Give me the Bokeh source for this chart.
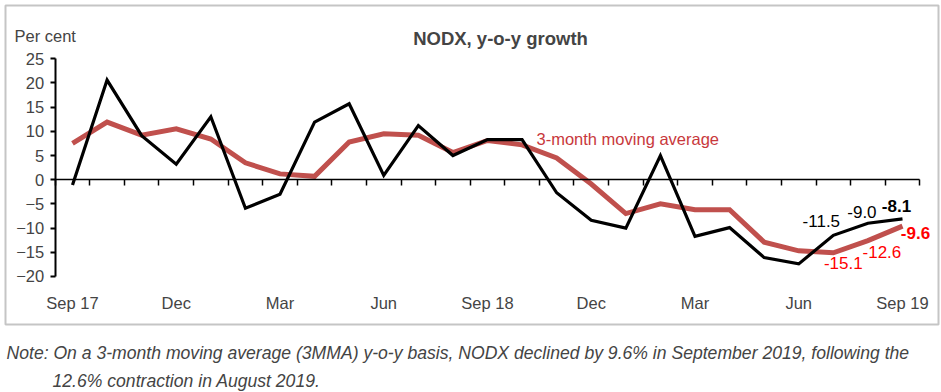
from bokeh.plotting import figure
from bokeh.models import Range1d, LinearAxis, FixedTicker, Label, BoxAnnotation
from bokeh.embed import file_html
from bokeh.resources import INLINE

months = ["Sep 17", "Oct 17", "Nov 17", "Dec 17", "Jan 18", "Feb 18", "Mar 18", "Apr 18",
          "May 18", "Jun 18", "Jul 18", "Aug 18", "Sep 18", "Oct 18", "Nov 18", "Dec 18",
          "Jan 19", "Feb 19", "Mar 19", "Apr 19", "May 19", "Jun 19", "Jul 19", "Aug 19", "Sep 19"]
nodx_yoy = [-1.1, 20.6, 9.1, 3.2, 13.0, -5.9, -3.0, 11.9, 15.7, 0.9, 11.2, 5.0, 8.3,
            8.3, -2.7, -8.4, -10.0, 5.0, -11.7, -9.9, -16.1, -17.4, -11.5, -9.0, -8.1]
nodx_3mma = [7.5, 11.9, 9.2, 10.5, 8.4, 3.5, 1.2, 0.7, 7.8, 9.5, 9.2, 5.6, 8.1,
             7.2, 4.5, -0.9, -7.0, -5.0, -6.2, -6.2, -12.9, -14.7, -15.1, -12.6, -9.6]
tick_labels = {0: "Sep 17", 3: "Dec", 6: "Mar", 9: "Jun", 12: "Sep 18",
               15: "Dec", 18: "Mar", 21: "Jun", 24: "Sep 19"}
y_ticks = [-20, -15, -10, -5, 0, 5, 10, 15, 20, 25]

FONT = "Liberation Sans"
RED_LINE = "#C0504D"
RED_TEXT = "#FF0000"

W, H = 940, 392
X0_PX, DX_PX = 72.0, 830.0 / 24      # pixel of first month, pixels per month
Y0_PX, DY_PX = 179.2, 4.838          # pixel of zero line, pixels per percentage point

x = list(range(len(months)))
ymin, ymax = y_ticks[0], y_ticks[-1]
xb = (x[0] - 0.5, x[-1] + 0.5)

p = figure(width=W, height=H,
           x_range=Range1d(-X0_PX / DX_PX, (W - X0_PX) / DX_PX),
           y_range=Range1d(-(H - Y0_PX) / DY_PX, Y0_PX / DY_PX),
           output_backend="svg", toolbar_location=None,
           x_axis_type=None, y_axis_type=None, min_border=0)
p.outline_line_color = None
p.xgrid.visible = False
p.ygrid.visible = False

# y axis
ya = LinearAxis(fixed_location=xb[0], bounds=(ymin, ymax), ticker=FixedTicker(ticks=y_ticks))
ya.axis_line_width = 2
ya.major_tick_out = 5
ya.major_tick_in = 0
ya.major_tick_line_width = 2
ya.minor_tick_line_color = None
ya.major_label_text_font = FONT
ya.major_label_text_font_size = "16.5px"
ya.major_label_standoff = 6
p.add_layout(ya, "left")

# month labels at bottom
xa = LinearAxis(fixed_location=ymin, bounds=xb, ticker=FixedTicker(ticks=list(tick_labels.keys())),
                major_label_overrides={k: v for k, v in tick_labels.items()})
xa.axis_line_color = None
xa.major_tick_line_color = None
xa.minor_tick_line_color = None
xa.major_label_standoff = 12
xa.major_label_text_font = FONT
xa.major_label_text_font_size = "16.5px"
p.add_layout(xa, "below")

# zero axis with tick marks at month boundaries
bounds = [i - 0.5 for i in range(len(months) + 1)]
za = LinearAxis(fixed_location=0, bounds=xb, ticker=FixedTicker(ticks=bounds),
                major_label_overrides={b: "" for b in bounds})
za.axis_line_width = 1.5
za.major_tick_out = 6
za.major_tick_in = 0
za.major_tick_line_width = 1.5
za.minor_tick_line_color = None
p.add_layout(za, "below")

p.line(x, nodx_3mma, line_color=RED_LINE, line_width=5, line_join="miter")
p.line(x, nodx_yoy, line_color="black", line_width=3.2, line_join="miter")

# value labels for the last three months
blk_off = [(-12, 14), (-6, 11), (-6, 13)]
red_off = [(10, -10), (14, -11), (13, -7)]
for k, i in enumerate(range(len(months) - 3, len(months))):
    last = (i == len(months) - 1)
    p.add_layout(Label(x=i, y=nodx_yoy[i], x_offset=blk_off[k][0], y_offset=blk_off[k][1],
                       text=f"{nodx_yoy[i]:.1f}", text_align="center", text_baseline="middle",
                       text_font=FONT, text_font_size="17px", text_color="black",
                       text_font_style="bold" if last else "normal"))
    p.add_layout(Label(x=i, y=nodx_3mma[i], x_offset=red_off[k][0], y_offset=red_off[k][1],
                       text=f"{nodx_3mma[i]:.1f}", text_align="center", text_baseline="middle",
                       text_font=FONT, text_font_size="17px", text_color=RED_TEXT,
                       text_font_style="bold" if last else "normal"))

# series label
p.add_layout(Label(x=536, y=138, x_units="canvas", y_units="canvas",
                   text="3-month moving average", text_font=FONT, text_font_size="16.5px",
                   text_color="#C8383C", text_baseline="middle"))

p.add_layout(Label(x=14, y=35, x_units="canvas", y_units="canvas", text="Per cent",
                   text_font=FONT, text_font_size="16.5px", text_baseline="middle"))
p.add_layout(Label(x=500, y=38, x_units="canvas", y_units="canvas", text="NODX, y-o-y growth",
                   text_font=FONT, text_font_size="18.5px", text_font_style="bold",
                   text_align="center", text_baseline="middle"))

p.add_layout(Label(x=6, y=352, x_units="canvas", y_units="canvas",
                   text="Note: On a 3-month moving average (3MMA) y-o-y basis, NODX declined by 9.6% in September 2019, following the",
                   text_font=FONT, text_font_size="17.6px", text_font_style="italic",
                   text_baseline="middle"))
p.add_layout(Label(x=52, y=380, x_units="canvas", y_units="canvas",
                   text="12.6% contraction in August 2019.",
                   text_font=FONT, text_font_size="17.6px", text_font_style="italic",
                   text_baseline="middle"))

p.add_layout(BoxAnnotation(left=5, right=938, top=5, bottom=324,
                           left_units="canvas", right_units="canvas",
                           top_units="canvas", bottom_units="canvas",
                           fill_color=None, line_color="#404040", line_width=2))

open("out.html", "w").write(file_html(p, INLINE))
